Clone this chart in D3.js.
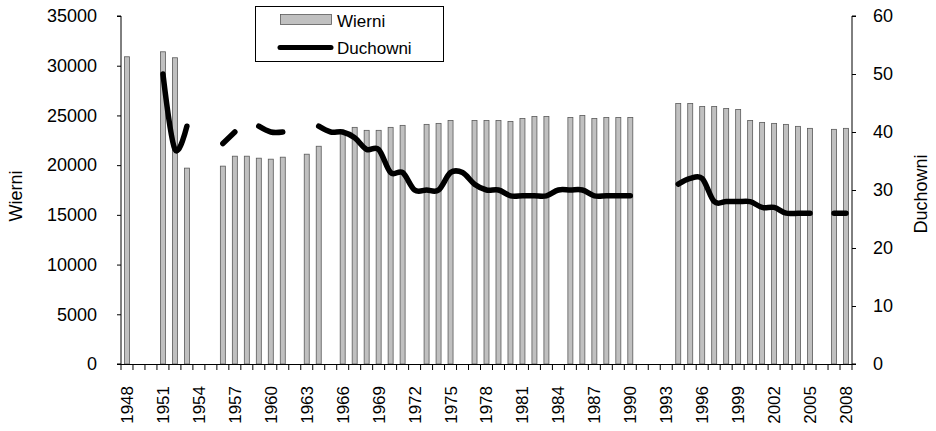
<!DOCTYPE html>
<html>
<head>
<meta charset="utf-8">
<script src="https://cdn.jsdelivr.net/npm/d3@7"></script>
<style>
  body { margin: 0; background: #fff; }
  svg { display: block; font-family: "Liberation Sans", Arial, sans-serif; }
</style>
</head>
<body>
<svg id="canvas" width="936" height="431"></svg>
<script>
// years on the x axis
var years = d3.range(1948, 2009)

// every third year gets a label
var tickYears = d3.range(1948, 2009, 3)

// Wierni (bars, left axis)
var wierni = [
  30900, null, null, 31400, 30800, 19700, null, null, 19900, 20900,   // 1948-1957
  20900, 20700, 20600, 20800, null, 21100, 21900, null, 23300, 23800, // 1958-1967
  23500, 23500, 23800, 24000, null, 24100, 24200, 24500, null, 24500, // 1968-1977
  24500, 24500, 24400, 24700, 24900, 24900, null, 24800, 25000, 24700, // 1978-1987
  24800, 24800, 24800, null, null, null, 26200, 26200, 25900, 25900,  // 1988-1997
  25700, 25600, 24500, 24300, 24200, 24100, 23900, 23700, null, 23600, // 1998-2007
  23700                                                                 // 2008
]

// Duchowni (line, right axis)
var duchowni = [
  null, null, null, 50, 37, 41, null, null, 38, 40,   // 1948-1957
  null, 41, 40, 40, null, null, 41, 40, 40, 39,       // 1958-1967
  37, 37, 33, 33, 30, 30, 30, 33, 33, 31,             // 1968-1977
  30, 30, 29, 29, 29, 29, 30, 30, 30, 29,             // 1978-1987
  29, 29, 29, null, null, null, 31, 32, 32, 28,       // 1988-1997
  28, 28, 28, 27, 27, 26, 26, 26, null, 26,           // 1998-2007
  26                                                  // 2008
]

var leftTicks = [0, 5000, 10000, 15000, 20000, 25000, 30000, 35000]
var rightTicks = [0, 10, 20, 30, 40, 50, 60]

var canvas = d3.select("#canvas")

var plot_left = 121
var plot_right = 852
var plot_top = 16
var plot_bottom = 364

var x = d3.scaleBand()
    .domain(years)
    .range([plot_left, plot_right])

var yLeft = d3.scaleLinear()
    .domain([0, 35000])
    .range([plot_bottom, plot_top])

var yRight = d3.scaleLinear()
    .domain([0, 60])
    .range([plot_bottom, plot_top])

var barWidth = 5

// bars
canvas.append("g")
    .selectAll("rect")
    .data(years.map(function(y, i){ return {year: y, v: wierni[i]} }).filter(function(d){ return d.v != null }))
    .join("rect")
    .attr("x", function(d){ return x(d.year) + x.bandwidth()/2 - barWidth/2 })
    .attr("y", function(d){ return yLeft(d.v) })
    .attr("width", barWidth)
    .attr("height", function(d){ return plot_bottom - yLeft(d.v) })
    .style("fill", "#c0c0c0")
    .style("stroke", "#5a5a5a")
    .style("stroke-width", 0.8)

// smoothed line with gaps
var line = d3.line()
    .defined(function(d){ return d.v != null })
    .x(function(d){ return x(d.year) + x.bandwidth()/2 })
    .y(function(d){ return yRight(d.v) })
    .curve(d3.curveCardinal.tension(0))

canvas.append("path")
    .datum(years.map(function(y, i){ return {year: y, v: duchowni[i]} }))
    .attr("d", line)
    .style("fill", "none")
    .style("stroke", "#000")
    .style("stroke-width", 5.5)
    .style("stroke-linecap", "round")
    .style("stroke-linejoin", "round")

// left axis
var leftAxis = d3.axisLeft(yLeft)
    .tickValues(leftTicks)
    .tickSize(4)
    .tickPadding(20)
    .tickFormat(d3.format("d"))

canvas.append("g")
    .attr("transform", "translate(" + plot_left + ",0)")
    .call(leftAxis)
    .call(function(g){
        g.select(".domain").attr("d", "M-4," + plot_top + "H0V" + plot_bottom + "H-4")
        g.selectAll("text").style("font-size", "18px").style("fill", "#000").attr("font-family", null)
    })

// right axis
var rightAxis = d3.axisRight(yRight)
    .tickValues(rightTicks)
    .tickSize(4)
    .tickPadding(17)

canvas.append("g")
    .attr("transform", "translate(" + plot_right + ",0)")
    .call(rightAxis)
    .call(function(g){
        g.select(".domain").attr("d", "M4," + plot_top + "H0V" + plot_bottom + "H4")
        g.selectAll("text").style("font-size", "18px").style("fill", "#000").attr("font-family", null)
    })

// x axis: ticks at band boundaries
var xg = canvas.append("g")

xg.append("line")
    .attr("x1", plot_left)
    .attr("x2", plot_right)
    .attr("y1", plot_bottom + 0.5)
    .attr("y2", plot_bottom + 0.5)
    .style("stroke", "#000")

xg.selectAll("line.tk")
    .data(years.concat([2009]))
    .join("line")
    .attr("class", "tk")
    .attr("x1", function(d){ return d == 2009 ? plot_right : x(d) })
    .attr("x2", function(d){ return d == 2009 ? plot_right : x(d) })
    .attr("y1", plot_bottom)
    .attr("y2", plot_bottom + 6)
    .style("stroke", "#000")

xg.selectAll("text")
    .data(tickYears)
    .join("text")
    .attr("transform", function(d){ return "translate(" + (x(d) + x.bandwidth()/2) + "," + 386 + ") rotate(-90)" })
    .attr("text-anchor", "end")
    .attr("dy", "0.35em")
    .style("font-size", "17px")
    .text(function(d){ return d })

// axis titles
canvas.append("text")
    .attr("transform", "translate(16,196) rotate(-90)")
    .attr("text-anchor", "middle")
    .attr("dy", "0.35em")
    .style("font-size", "18px")
    .text("Wierni")

canvas.append("text")
    .attr("transform", "translate(921,194) rotate(-90)")
    .attr("text-anchor", "middle")
    .attr("dy", "0.35em")
    .style("font-size", "18px")
    .text("Duchowni")

// legend
var legend = canvas.append("g")

legend.append("rect")
    .attr("x", 255.5)
    .attr("y", 6.5)
    .attr("width", 188)
    .attr("height", 55)
    .style("fill", "#fff")
    .style("stroke", "#000")

legend.append("rect")
    .attr("x", 280.5)
    .attr("y", 14.5)
    .attr("width", 51)
    .attr("height", 10)
    .style("fill", "#c0c0c0")
    .style("stroke", "#5a5a5a")
    .style("stroke-width", 0.8)

legend.append("line")
    .attr("x1", 280)
    .attr("x2", 331)
    .attr("y1", 47.5)
    .attr("y2", 47.5)
    .style("stroke", "#000")
    .style("stroke-width", 5)
    .style("stroke-linecap", "round")

legend.append("text")
    .attr("x", 337)
    .attr("y", 27)
    .style("font-size", "17px")
    .text("Wierni")

legend.append("text")
    .attr("x", 337)
    .attr("y", 53.5)
    .style("font-size", "17px")
    .text("Duchowni")
</script>
</body>
</html>
